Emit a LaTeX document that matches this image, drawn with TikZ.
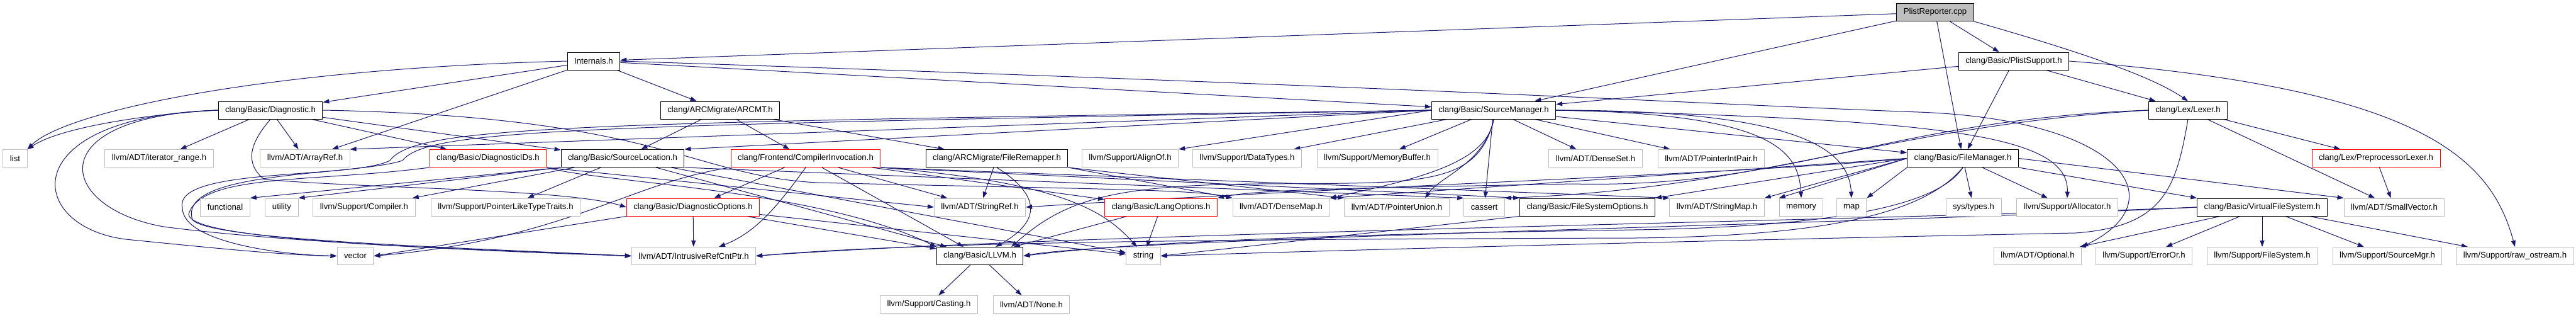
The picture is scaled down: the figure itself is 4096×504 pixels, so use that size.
\documentclass[tikz,border=0pt]{standalone}
\usepackage{fontspec}
\setmainfont{Liberation Sans}
\usetikzlibrary{arrows.meta,backgrounds}
\definecolor{edgeblue}{HTML}{191970}
\definecolor{extgrey}{HTML}{BFBFBF}
\begin{document}
\begin{tikzpicture}[x=1pt,y=-1pt,
	filebox/.style={draw,line width=1pt,fill=white,inner xsep=11pt,inner ysep=0pt,minimum height=28pt,font=\fontsize{13.2}{15}\selectfont},
	docbox/.style={filebox,draw=black},
	extbox/.style={filebox,draw=extgrey},
	cutbox/.style={filebox,draw=red},
	rootbox/.style={filebox,draw=black,fill=extgrey},
	dep/.style={draw=edgeblue,line width=1pt,-{Triangle[length=10pt,width=7pt]}}]
	\useasboundingbox (0,0) rectangle (4096,504);

	\node[rootbox] (plist) at (3077,19.5) {PlistReporter.cpp};

	\node[docbox] (internals) at (944,97) {Internals.h};
	\node[docbox] (plistsup) at (3202,97) {clang/Basic/PlistSupport.h};

	\node[docbox] (diag) at (430,175) {clang/Basic/Diagnostic.h};
	\node[docbox] (arcmt) at (1145,175) {clang/ARCMigrate/ARCMT.h};
	\node[docbox] (srcmgr) at (2375,175) {clang/Basic/SourceManager.h};
	\node[docbox] (lexer) at (3479,175) {clang/Lex/Lexer.h};

	\node[extbox] (list) at (24,251.5) {list};
	\node[extbox] (iterrange) at (253,251.5) {llvm/ADT/iterator\_range.h};
	\node[extbox] (arrayref) at (485,251.5) {llvm/ADT/ArrayRef.h};
	\node[cutbox] (diagids) at (776,251.5) {clang/Basic/DiagnosticIDs.h};
	\node[docbox] (srcloc) at (990,251.5) {clang/Basic/SourceLocation.h};
	\node[cutbox] (compinv) at (1281,251.5) {clang/Frontend/CompilerInvocation.h};
	\node[docbox] (remapper) at (1585,251.5) {clang/ARCMigrate/FileRemapper.h};
	\node[extbox] (alignof) at (1797,251.5) {llvm/Support/AlignOf.h};
	\node[extbox] (datatypes) at (1983,251.5) {llvm/Support/DataTypes.h};
	\node[extbox] (membuf) at (2190,251.5) {llvm/Support/MemoryBuffer.h};
	\node[extbox] (denseset) at (2537,251.5) {llvm/ADT/DenseSet.h};
	\node[extbox] (ptrintpair) at (2721,251.5) {llvm/ADT/PointerIntPair.h};
	\node[docbox] (filemgr) at (3121,251.5) {clang/Basic/FileManager.h};
	\node[cutbox] (pplexer) at (3778,251.5) {clang/Lex/PreprocessorLexer.h};

	\node[extbox] (functional) at (358,329) {functional};
	\node[extbox] (utility) at (448,329) {utility};
	\node[extbox] (compiler) at (579,329) {llvm/Support/Compiler.h};
	\node[extbox] (ptrtraits) at (804,329) {llvm/Support/PointerLikeTypeTraits.h};
	\node[cutbox] (diagopts) at (1102,329) {clang/Basic/DiagnosticOptions.h};
	\node[extbox] (stringref) at (1558,329) {llvm/ADT/StringRef.h};
	\node[cutbox] (langopts) at (1846,329) {clang/Basic/LangOptions.h};
	\node[extbox] (densemap) at (2037,329) {llvm/ADT/DenseMap.h};
	\node[extbox] (ptrunion) at (2221,329) {llvm/ADT/PointerUnion.h};
	\node[extbox] (cassert) at (2360,329) {cassert};
	\node[docbox] (fsopts) at (2524,329) {clang/Basic/FileSystemOptions.h};
	\node[extbox] (stringmap) at (2730,329) {llvm/ADT/StringMap.h};
	\node[extbox] (memory) at (2864,329) {memory};
	\node[extbox] (map) at (2944,329) {map};
	\node[extbox] (systypes) at (3138,329) {sys/types.h};
	\node[extbox] (allocator) at (3287,329) {llvm/Support/Allocator.h};
	\node[docbox] (vfs) at (3597,329) {clang/Basic/VirtualFileSystem.h};
	\node[extbox] (smallvec) at (3807,329) {llvm/ADT/SmallVector.h};

	\node[extbox] (vector) at (565,406.5) {vector};
	\node[extbox] (irc) at (1103,406.5) {llvm/ADT/IntrusiveRefCntPtr.h};
	\node[docbox] (llvmh) at (1558,406.5) {clang/Basic/LLVM.h};
	\node[extbox] (string) at (1818,406.5) {string};
	\node[extbox] (optional) at (3240,406.5) {llvm/ADT/Optional.h};
	\node[extbox] (erroror) at (3409,406.5) {llvm/Support/ErrorOr.h};
	\node[extbox] (filesystem) at (3597,406.5) {llvm/Support/FileSystem.h};
	\node[extbox] (srcmgrllvm) at (3796,406.5) {llvm/Support/SourceMgr.h};
	\node[extbox] (rawos) at (3999,406.5) {llvm/Support/raw\_ostream.h};

	\node[extbox] (casting) at (1477,483.5) {llvm/Support/Casting.h};
	\node[extbox] (none) at (1640,483.5) {llvm/ADT/None.h};

	\begin{scope}[on background layer]
	\draw[dep] (plist) -- (internals);
	\draw[dep] (plist) -- (srcmgr);
	\draw[dep] (plist) -- (filemgr);
	\draw[dep] (plist) -- (plistsup);
	\draw[dep] (plist.south east) .. controls (3300,80) and (3420,120) .. (lexer.north);

	\draw[dep] (internals.west) .. controls (400,110) and (100,180) .. (list.north east);
	\draw[dep] (internals) -- (diag);
	\draw[dep] (internals) -- (arrayref);
	\draw[dep] (internals) -- (arcmt);
	\draw[dep] (internals) -- (srcmgr);
	\draw[dep] (internals.east) .. controls (2300,140) and (2700,165) .. (3050,178) .. controls (3380,190) and (3460,320) .. (optional.north east);

	\draw[dep] (plistsup) -- (srcmgr);
	\draw[dep] (plistsup) -- (filemgr);
	\draw[dep] (plistsup) -- (lexer);
	\draw[dep] (plistsup.east) .. controls (3850,140) and (3960,250) .. (rawos.north);

	\draw[dep] (diag.west) .. controls (250,180) and (100,200) .. (list.north east);
	\draw[dep] (diag) -- (iterrange);
	\draw[dep] (diag) -- (arrayref);
	\draw[dep] (diag) -- (diagids);
	\draw[dep] (diag) -- (srcloc);
	\draw[dep] (diag.east) .. controls (1050,185) and (1100,280) .. (1300,290) .. controls (1700,300) and (1900,300) .. (densemap.north west);
	\draw[dep] (diag.west) .. controls (20,185) and (40,360) .. (200,380) .. controls (350,395) and (450,405) .. (vector.west);
	\draw[dep] (diag.west) .. controls (60,185) and (90,330) .. (260,360) .. controls (450,385) and (800,400) .. (irc.west);
	\draw[dep] (diag.south) .. controls (395,230) and (390,260) .. (420,285) .. controls (600,300) and (900,300) .. (diagopts.west);

	\draw[dep] (arcmt) -- (srcloc);
	\draw[dep] (arcmt) -- (compinv);
	\draw[dep] (arcmt) -- (remapper);

	\draw[dep] (srcmgr.west) -- (srcloc.north east);
	\draw[dep] (srcmgr.west) -- (arrayref.north east);
	\draw[dep] (srcmgr.west) -- (alignof.north east);
	\draw[dep] (srcmgr) -- (datatypes);
	\draw[dep] (srcmgr) -- (membuf);
	\draw[dep] (srcmgr) -- (denseset);
	\draw[dep] (srcmgr) -- (ptrintpair);
	\draw[dep] (srcmgr.south) .. controls (2360,260) and (2290,280) .. ([xshift=45pt]ptrunion.north);
	\draw[dep] (srcmgr.south) .. controls (2365,260) and (2250,285) .. (densemap.north east);
	\draw[dep] (srcmgr) -- (cassert);
	\draw[dep] (srcmgr.east) .. controls (2820,180) and (2860,240) .. (memory.north);
	\draw[dep] (srcmgr.east) .. controls (2870,175) and (2940,240) .. (map.north);
	\draw[dep] (srcmgr) -- (filemgr);
	\draw[dep] (srcmgr.east) .. controls (3100,190) and (3290,215) .. (allocator.north);
	\draw[dep] (srcmgr.south) .. controls (2350,300) and (2250,290) .. (2000,292) .. controls (1760,294) and (1690,320) .. ([xshift=50pt]llvmh.north);
	\draw[dep] (srcmgr.west) .. controls (900,195) and (660,200) .. (620,255) .. controls (560,285) and (275,265) .. (290,330) .. controls (290,385) and (450,405) .. (vector.west);
	\draw[dep] (srcmgr.west) .. controls (900,200) and (680,205) .. (640,255) .. controls (560,280) and (290,270) .. (305,345) .. controls (300,380) and (700,392) .. (irc.west);

	\draw[dep] (diagids.south west) .. controls (500,290) and (320,275) .. (300,340) .. controls (300,385) and (750,395) .. (irc.west);
	\draw[dep] (diagids.south east) .. controls (950,290) and (1300,300) .. (llvmh.north west);
	\draw[dep] (diagids.south east) -- (stringref.west);

	\draw[dep] (srcloc.south west) -- (functional.north east);
	\draw[dep] (srcloc.south west) -- (utility.north east);
	\draw[dep] (srcloc) -- (compiler);
	\draw[dep] (srcloc) -- (ptrtraits);
	\draw[dep] (srcloc) -- (llvmh);
	\draw[dep] (srcloc) -- (string);
	\draw[dep] (srcloc.south east) -- (cassert.north west);

	\draw[dep] (compinv) -- (diagopts);
	\draw[dep] (compinv.south) .. controls (1235,330) and (1200,370) .. ([xshift=40pt]irc.north);
	\draw[dep] (compinv) -- (stringref);
	\draw[dep] (compinv) -- (langopts);
	\draw[dep] (compinv.south east) -- (fsopts.north west);
	\draw[dep] (compinv.south east) -- (stringmap.north west);
	\draw[dep] (compinv.south east) .. controls (1700,290) and (1760,340) .. ([xshift=-10pt]string.north);
	\draw[dep] (compinv.south west) .. controls (1000,290) and (900,380) .. (vector.east);
	\draw[dep] (compinv) -- (llvmh);

	\draw[dep] (remapper) -- (stringref);
	\draw[dep] (remapper.south) .. controls (1670,320) and (1640,360) .. ([xshift=25pt]llvmh.north);
	\draw[dep] (remapper.south east) -- (densemap.north west);
	\draw[dep] (remapper.south east) -- (ptrunion.north west);

	\draw[dep] (lexer.west) .. controls (3000,190) and (2850,300) .. (2500,292) .. controls (2200,298) and (2000,300) .. (langopts.north east);
	\draw[dep] (lexer.west) .. controls (3000,200) and (2800,300) .. (cassert.north east);
	\draw[dep] (lexer.south) .. controls (3460,300) and (3440,360) .. (3300,370) .. controls (2800,380) and (2200,395) .. (string.east);
	\draw[dep] (lexer) -- (pplexer);
	\draw[dep] (lexer) -- (smallvec);
	\draw[dep] (pplexer) -- (smallvec);

	\draw[dep] (filemgr.south west) -- (map.north east);
	\draw[dep] (filemgr.west) -- (memory.north west);
	\draw[dep] (filemgr.west) -- (stringmap.north east);
	\draw[dep] (filemgr.west) -- (fsopts.north east);
	\draw[dep] (filemgr.west) -- (densemap.north east);
	\draw[dep] (filemgr.west) .. controls (2800,275) and (2100,298) .. (stringref.east);
	\draw[dep] (filemgr.south) .. controls (3080,330) and (2900,360) .. (2600,365) .. controls (2100,372) and (1800,385) .. (llvmh.east);
	\draw[dep] (filemgr.south) .. controls (3060,340) and (2900,375) .. (2600,378) .. controls (1900,380) and (1450,385) .. (irc.east);
	\draw[dep] (filemgr) -- (systypes);
	\draw[dep] (filemgr) -- (allocator);
	\draw[dep] (filemgr.south east) -- (vfs.north west);
	\draw[dep] (filemgr.east) -- (smallvec.north west);

	\draw[dep] (vfs) -- (optional);
	\draw[dep] (vfs) -- (erroror);
	\draw[dep] (vfs) -- (filesystem);
	\draw[dep] (vfs) -- (srcmgrllvm);
	\draw[dep] (vfs) -- (rawos);
	\draw[dep] (vfs.west) .. controls (3000,355) and (1780,378) .. (llvmh.east);
	\draw[dep] (vfs.west) .. controls (3000,350) and (1700,370) .. (irc.east);

	\draw[dep] (diagopts) -- (irc);
	\draw[dep] (diagopts) -- (llvmh);
	\draw[dep] (diagopts) -- (string);
	\draw[dep] (diagopts.south west) -- (vector.east);
	\draw[dep] (langopts) -- (llvmh);
	\draw[dep] (langopts) -- (string);
	\draw[dep] (fsopts.south west) -- (string.east);
	\draw[dep] (llvmh) -- (casting);
	\draw[dep] (llvmh) -- (none);
	\end{scope}
\end{tikzpicture}
\end{document}
